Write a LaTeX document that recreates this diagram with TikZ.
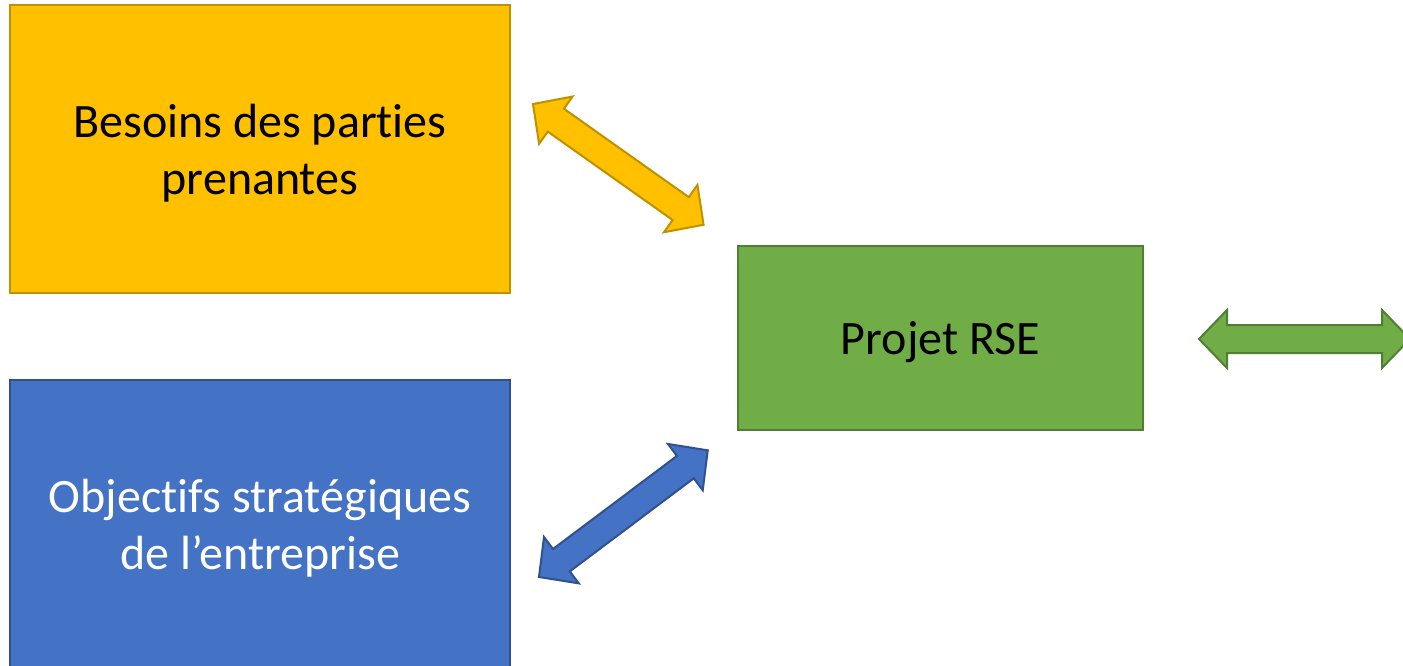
\documentclass[tikz,border=0pt]{standalone}
\usepackage{fontspec}
\setmainfont{Carlito}[RawFeature=-liga]
\definecolor{ambre}{HTML}{FFC000}
\definecolor{ambreBord}{HTML}{BF9000}
\definecolor{bleu}{HTML}{4472C4}
\definecolor{bleuBord}{HTML}{2F528F}
\definecolor{vert}{HTML}{70AD47}
\definecolor{vertBord}{HTML}{507E32}
\tikzset{
  boite/.style={rectangle, inner sep=0pt, line width=1pt, align=center,
    text depth=0pt, font=\fontsize{24}{28.5}\selectfont},
  % block double arrow along the x axis, length #1 (pixels)
  pics/flechedouble/.style={code={
    \path[pic actions] (0,0) -- (28,-29) -- (28,-14) -- (#1-28,-14) -- (#1-28,-29)
      -- (#1,0) -- (#1-28,29) -- (#1-28,14) -- (28,14) -- (28,29) -- cycle;
  }},
  fleche/.style={line width=1pt, line join=miter}
}
\begin{document}
\begin{tikzpicture}[x=0.5pt, y=-0.5pt]
  \useasboundingbox (0,0) rectangle (1403,665);

  \node[boite, fill=ambre, draw=ambreBord, minimum width=250pt, minimum height=144pt]
    (besoins) at (260,149) {Besoins des parties\\prenantes};
  \node[boite, fill=bleu, draw=bleuBord, text=white, minimum width=250pt, minimum height=144pt]
    (objectifs) at (260,524) {Objectifs stratégiques\\de l’entreprise};
  \node[boite, fill=vert, draw=vertBord, minimum width=202.5pt, minimum height=92pt]
    (projet) at (940.5,338) {Projet RSE};

  \pic[fleche, fill=ambre, draw=ambreBord, shift={(533,104)}, rotate=-35.3] {flechedouble=209};
  \pic[fleche, fill=bleu, draw=bleuBord, shift={(539,577)}, rotate=36.9] {flechedouble=211};
  \pic[fleche, fill=vert, draw=vertBord, shift={(1199,339)}] {flechedouble=211};
\end{tikzpicture}
\end{document}
